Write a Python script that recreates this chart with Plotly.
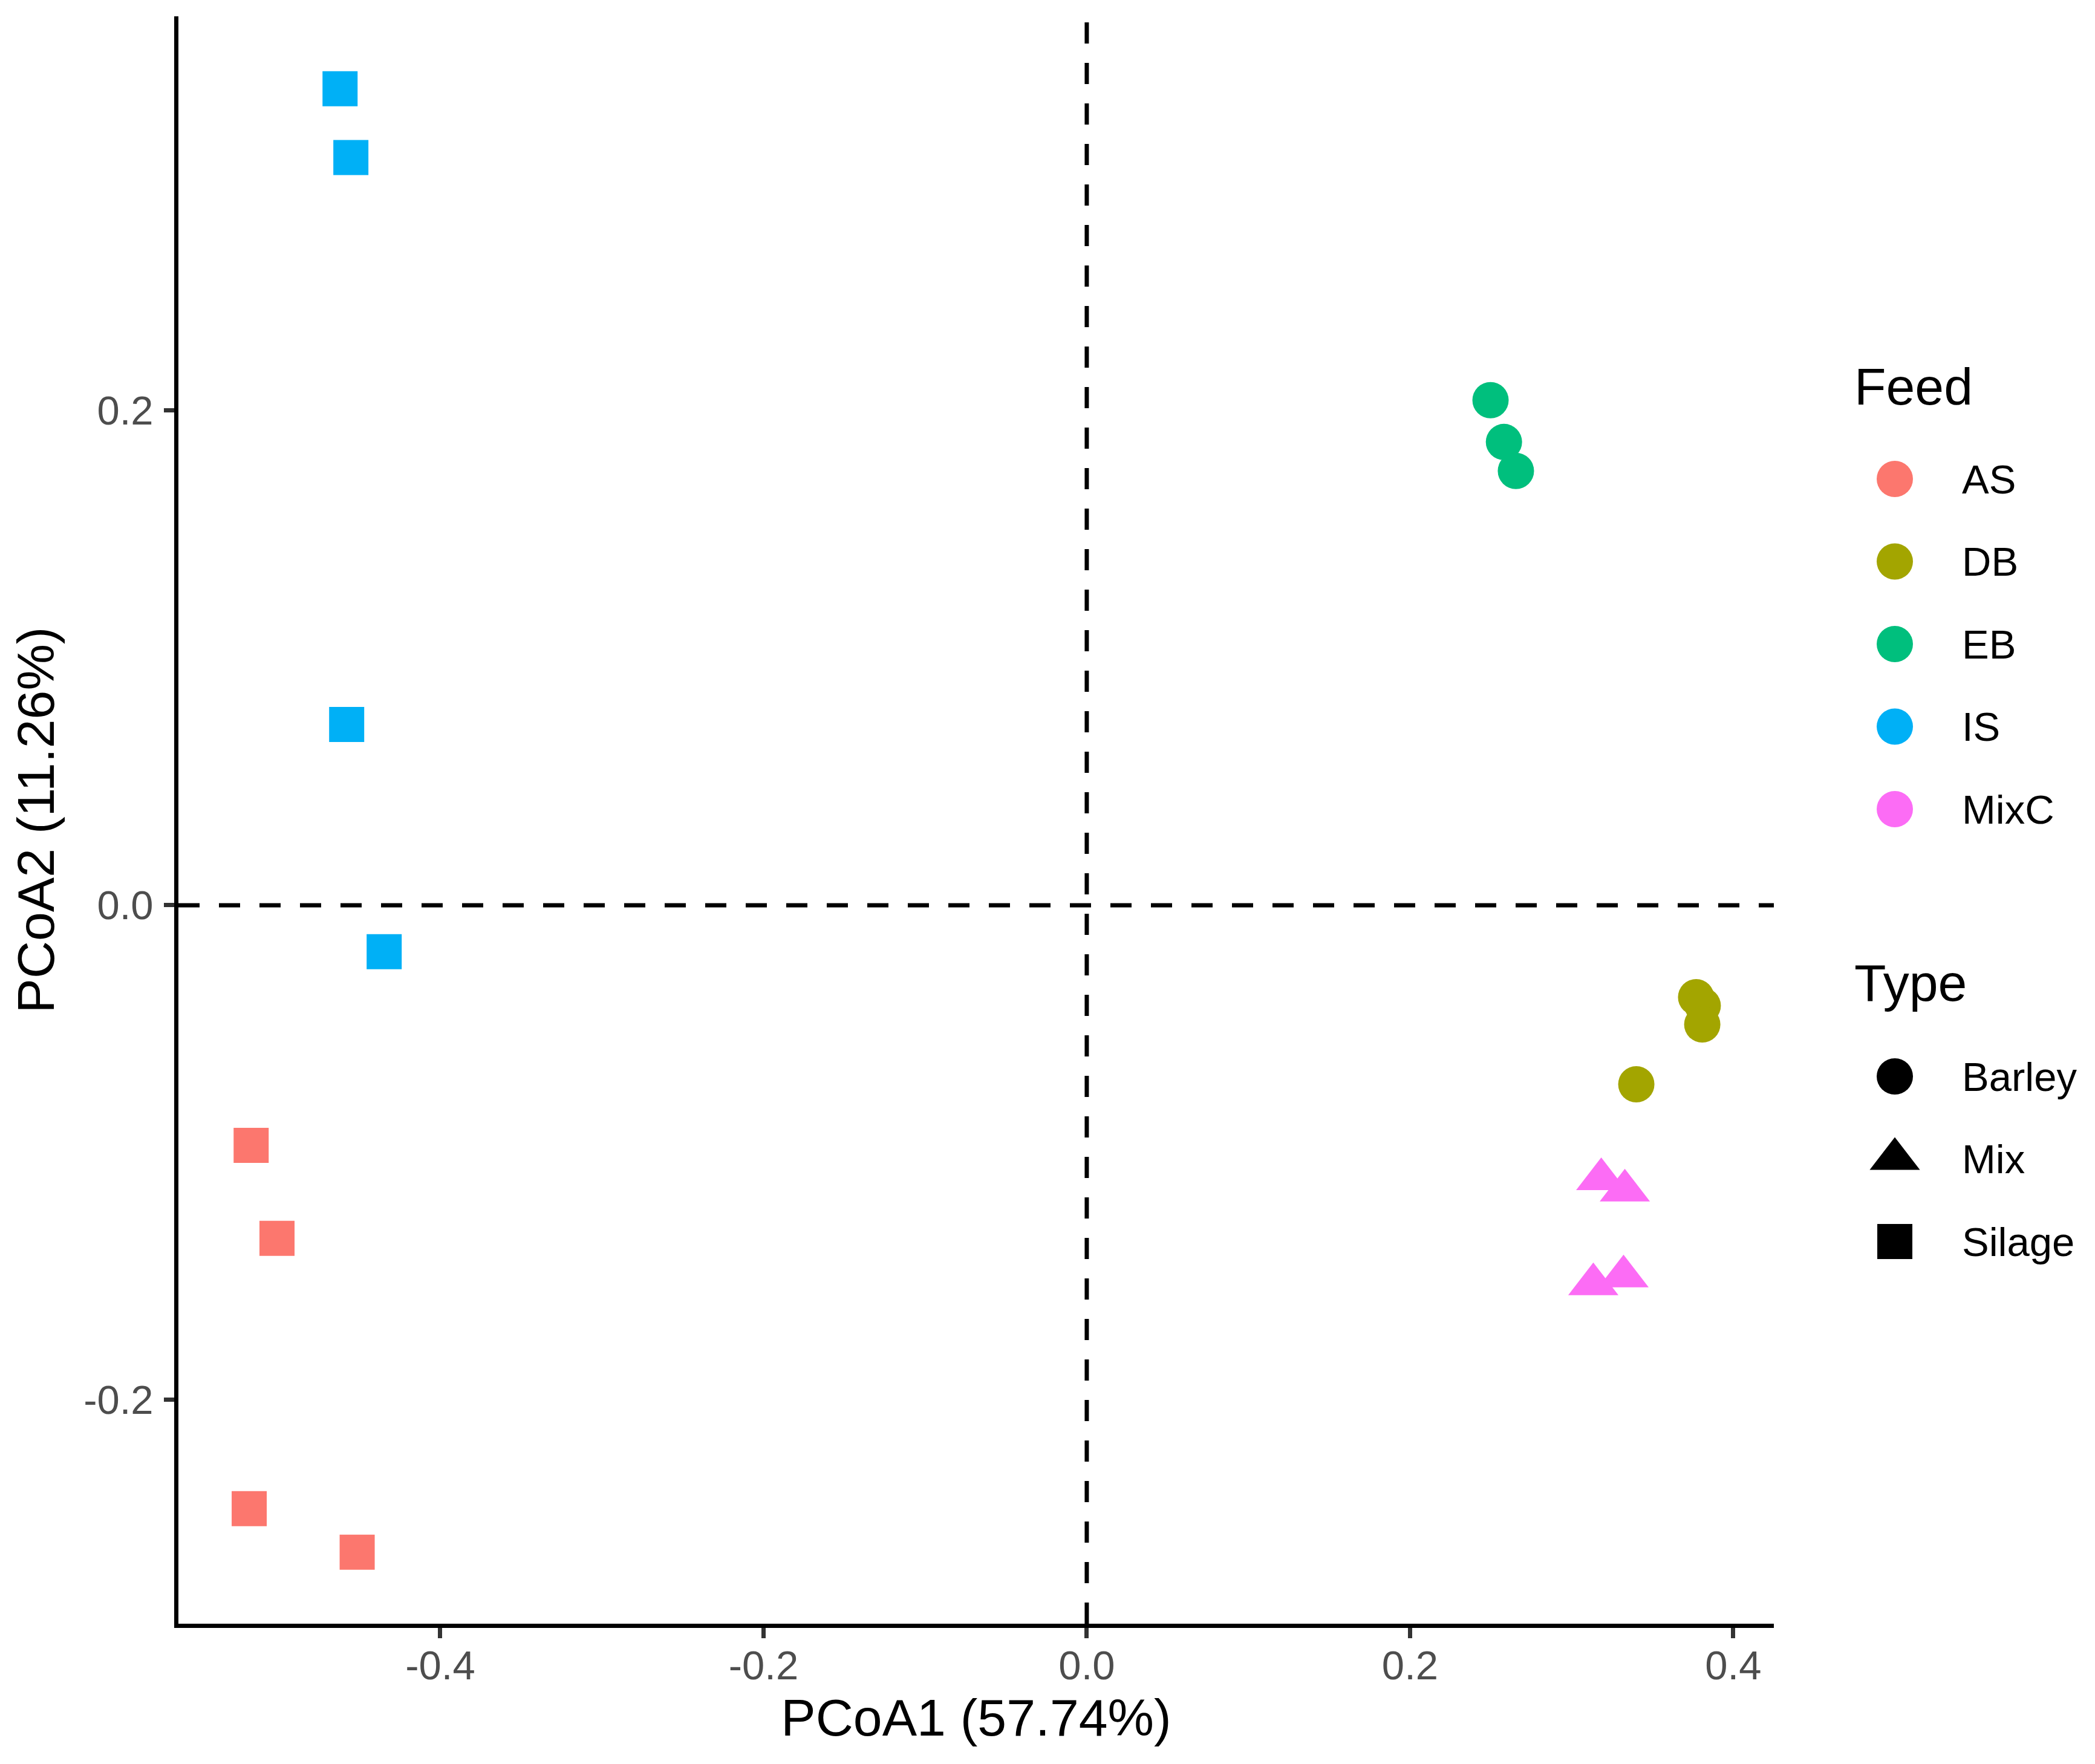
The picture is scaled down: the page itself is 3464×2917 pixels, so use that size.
import plotly.graph_objects as go

# PCoA scores, one list per feed group
feeds = ["AS", "DB", "EB", "IS", "MixC"]
feed_colors = ["#FC776E", "#A3A500", "#00BF7D", "#00B0F6", "#FC6CF5"]
feed_type = ["Silage", "Barley", "Barley", "Silage", "Mix"]

as_x = [-0.5170, -0.5010, -0.5182, -0.4514]
as_y = [-0.0971, -0.1347, -0.2440, -0.2616]
db_x = [0.3770, 0.3811, 0.3808, 0.3400]
db_y = [-0.0372, -0.0406, -0.0482, -0.0724]
eb_x = [0.2498, 0.2581, 0.2655]
eb_y = [0.2042, 0.1873, 0.1756]
is_x = [-0.4620, -0.4553, -0.4579, -0.4347]
is_y = [0.3301, 0.3023, 0.0731, -0.0188]
mixc_x = [0.3183, 0.3329, 0.3134, 0.3321]
mixc_y = [-0.1108, -0.1154, -0.1533, -0.1501]

types = ["Barley", "Mix", "Silage"]
type_symbols = ["circle", "triangle-up", "square"]
type_sizes = [60, 72, 58]

x_ticks = [-0.4, -0.2, 0.0, 0.2, 0.4]
x_tick_text = ["-0.4", "-0.2", "0.0", "0.2", "0.4"]
y_ticks = [-0.2, 0.0, 0.2]
y_tick_text = ["-0.2", "0.0", "0.2"]

xs = [as_x, db_x, eb_x, is_x, mixc_x]
ys = [as_y, db_y, eb_y, is_y, mixc_y]

# the page body has an 8px margin, so the figure is laid out 8px up/left
W, H = 3448, 2901
ml, mt = 287, 19
plot_right, plot_bottom = 2925, 2677
mb = H - plot_bottom
main_frac = (plot_right - ml) / (W - ml)
FONT = "Liberation Sans, Arial, sans-serif"

fig = go.Figure()

for name, col, t, x, y in zip(feeds, feed_colors, feed_type, xs, ys):
    i = types.index(t)
    fig.add_trace(go.Scatter(
        x=x, y=y, mode="markers", name=name, showlegend=False,
        marker=dict(color=col, symbol=type_symbols[i], size=type_sizes[i],
                    line=dict(width=0), opacity=1),
    ))

# dashed reference lines at zero
fig.add_hline(y=0, line=dict(color="black", width=7, dash="35px,32px"))
fig.add_vline(x=0, line=dict(color="black", width=7, dash="35px,32px"))

# hand-built legend on a hidden axis pair to the right (pixel-like units)
key_x, label_x, title_x = 200, 309, 131
feed_top, type_top, step = 765, 1753, 136.5

fig.add_trace(go.Scatter(
    x=[key_x] * len(feeds), y=[feed_top + k * step for k in range(len(feeds))],
    mode="markers", xaxis="x2", yaxis="y2", showlegend=False, hoverinfo="skip",
    marker=dict(color=feed_colors, symbol="circle", size=60, line=dict(width=0), opacity=1),
))
fig.add_trace(go.Scatter(
    x=[key_x] * len(types), y=[type_top + k * step for k in range(len(types))],
    mode="markers", xaxis="x2", yaxis="y2", showlegend=False, hoverinfo="skip",
    marker=dict(color="#000000", symbol=type_symbols, size=type_sizes,
                line=dict(width=0), opacity=1),
))

annotations = [
    dict(text="Feed", x=title_x, y=612, xref="x2", yref="y2",
         xanchor="left", yanchor="middle", showarrow=False,
         font=dict(size=86, color="black", family=FONT)),
    dict(text="Type", x=title_x, y=1598, xref="x2", yref="y2",
         xanchor="left", yanchor="middle", showarrow=False,
         font=dict(size=86, color="black", family=FONT)),
]
for k, name in enumerate(feeds):
    annotations.append(dict(text=name, x=label_x, y=feed_top + k * step,
                            xref="x2", yref="y2", xanchor="left", yanchor="middle",
                            showarrow=False, font=dict(size=67, color="black", family=FONT)))
for k, name in enumerate(types):
    annotations.append(dict(text=name, x=label_x, y=type_top + k * step,
                            xref="x2", yref="y2", xanchor="left", yanchor="middle",
                            showarrow=False, font=dict(size=67, color="black", family=FONT)))

axis_common = dict(showgrid=False, zeroline=False, showline=True, linecolor="black",
                   linewidth=7, ticks="outside", ticklen=17, tickwidth=7,
                   tickcolor="#333333", tickfont=dict(size=67, color="#4D4D4D", family=FONT))

fig.update_layout(
    width=W, height=H,
    margin=dict(l=ml, r=0, t=mt, b=mb, pad=0),
    plot_bgcolor="white", paper_bgcolor="white",
    font=dict(family=FONT, color="black"),
    xaxis=dict(domain=[0, main_frac], range=[-0.5620, 0.4251], tickvals=x_ticks,
               ticktext=x_tick_text, ticklabelstandoff=-12,
               title=dict(text="PCoA1 (57.74%)", font=dict(size=86, color="black"), standoff=22),
               **axis_common),
    yaxis=dict(range=[-0.2905, 0.3594], tickvals=y_ticks, ticktext=y_tick_text,
               ticklabelstandoff=4,
               title=dict(text="PCoA2 (11.26%)", font=dict(size=86, color="black"), standoff=23),
               **axis_common),
    xaxis2=dict(domain=[main_frac, 1], range=[0, W - plot_right], visible=False,
                anchor="y2", fixedrange=True),
    yaxis2=dict(domain=[0, 1], range=[plot_bottom - mt, 0], visible=False,
                anchor="x2", fixedrange=True),
    annotations=annotations,
    showlegend=False,
)

fig.write_html("out.html")
